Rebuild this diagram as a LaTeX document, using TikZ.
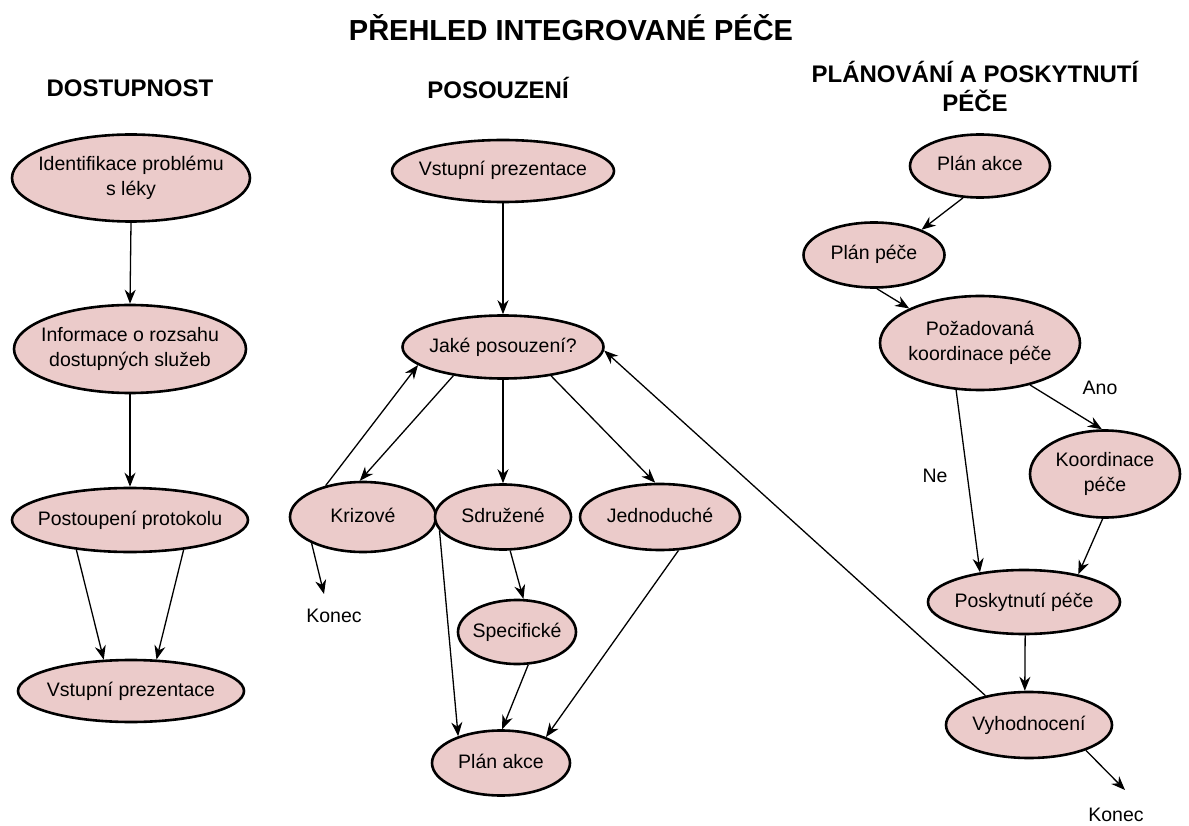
\documentclass[tikz,border=0pt]{standalone}
\usepackage{fontspec}
\setmainfont{Liberation Sans}
\usetikzlibrary{positioning, arrows.meta, shapes.geometric}
\definecolor{nodepink}{HTML}{EBCBCA}
% text of an ellipse, kept out of the shape's size
\newcommand\elltext[1]{\makebox[0pt]{\begin{tabular}{@{}c@{}}#1\end{tabular}}}
\tikzset{
  proc/.style={ellipse, draw, line width=2.6pt, fill=nodepink, inner sep=0pt,
    font=\fontsize{19.5}{25}\selectfont},
  flow/.style={-{Stealth[length=14pt,width=11pt]}, line width=1.3pt},
  lbl/.style={font=\fontsize{19.5}{25}\selectfont, inner sep=0pt},
  head/.style={font=\bfseries\fontsize{24}{29}\selectfont, align=center}
}

\begin{document}
\begin{tikzpicture}[x=1pt, y=-1pt]
    \useasboundingbox (0,0) rectangle (1189,826);

    % Titles
    \node[head, font=\bfseries\fontsize{29}{34}\selectfont] (title) at (571,28) {PŘEHLED INTEGROVANÉ PÉČE};
    \node[head] (hdostup) at (130,88) {DOSTUPNOST};
    \node[head] (hposouz) at (498,88) {POSOUZENÍ};
    \node[head] (hplan) at (975,86) {PLÁNOVÁNÍ A POSKYTNUTÍ\\PÉČE};

    % Dostupnost
    \node[proc, minimum width=238pt, minimum height=87pt] (ident) at (131,178) {\elltext{Identifikace problému\\s léky}};
    \node[proc, minimum width=232pt, minimum height=88pt] (info) at (130,349) {\elltext{Informace o rozsahu\\dostupných služeb}};
    \node[proc, minimum width=236pt, minimum height=64pt] (postoup) at (130,520) {\elltext{Postoupení protokolu}};
    \node[proc, minimum width=226pt, minimum height=62pt] (vstupA) at (131,691) {\elltext{Vstupní prezentace}};

    % Posouzeni
    \node[proc, minimum width=222pt, minimum height=62pt] (vstupB) at (503,171) {\elltext{Vstupní prezentace}};
    \node[proc, minimum width=201pt, minimum height=63pt] (jake) at (503,347) {\elltext{Jaké posouzení?}};
    \node[proc, minimum width=146pt, minimum height=70pt] (krizove) at (363,517) {\elltext{Krizové}};
    \node[proc, minimum width=136pt, minimum height=65pt] (sdruz) at (503,517) {\elltext{Sdružené}};
    \node[proc, minimum width=160pt, minimum height=66pt] (jedno) at (660,517) {\elltext{Jednoduché}};
    \node[proc, minimum width=118pt, minimum height=64pt] (spec) at (517,632) {\elltext{Specifické}};
    \node[proc, minimum width=138pt, minimum height=65pt] (planA) at (501,763) {\elltext{Plán akce}};
    \node[lbl] (konecA) at (334,616) {Konec};
    \coordinate (konecAtip) at (324,594);

    % Planovani a poskytnuti
    \node[proc, minimum width=140pt, minimum height=63pt] (planB) at (980,166) {\elltext{Plán akce}};
    \node[proc, minimum width=141pt, minimum height=65pt] (pece) at (874,255) {\elltext{Plán péče}};
    \node[proc, minimum width=200pt, minimum height=94pt] (pozad) at (980,343) {\elltext{Požadovaná\\koordinace péče}};
    \node[proc, minimum width=150pt, minimum height=87pt] (koord) at (1105,474) {\elltext{Koordinace\\péče}};
    \node[proc, minimum width=192pt, minimum height=64pt] (poskyt) at (1024,602) {\elltext{Poskytnutí péče}};
    \node[proc, minimum width=166pt, minimum height=66pt] (vyhod) at (1029,725) {\elltext{Vyhodnocení}};
    \node[lbl] (konecB) at (1116,815) {Konec};
    \coordinate (konecBtip) at (1125,790);
    \node[lbl] (ano) at (1100,388) {Ano};
    \node[lbl] (ne) at (935,476) {Ne};

    % Arrows
    \draw[flow] (ident.south) -- (info.north);
    \draw[flow] (info.south) -- (postoup.north);
    \draw[flow] (postoup.209) -- (vstupA.131);
    \draw[flow] (postoup.331) -- (vstupA.51);

    \draw[flow] (vstupB.south) -- (jake.north);
    \draw[flow] (jake.210) -- (krizove.95);
    \draw[flow] (krizove.140) -- (jake.192);
    \draw[flow] (jake.south) -- (sdruz.north);
    \draw[flow] (jake.329) -- (jedno.98);
    \draw[flow] (krizove.207) -- (konecAtip);
    \draw[flow] (sdruz.282) -- (spec.79);
    \draw[flow] (sdruz.192) -- (planA.148);
    \draw[flow] (spec.289) -- (planA.88);
    \draw[flow] (jedno.299) -- (planA.30);
    \draw[flow] (vyhod.146) -- (jake.358);

    \draw[flow] (planB.242) -- (pece.28);
    \draw[flow] (pece.275) -- (pozad.154);
    \draw[flow] (pozad.320) -- (koord.94);
    \draw[flow] (pozad.243) -- (poskyt.146);
    \draw[flow] (koord.267) -- (poskyt.27);
    \draw[flow] (poskyt.272) -- (vyhod.97);
    \draw[flow] (vyhod.336) -- (konecBtip);
\end{tikzpicture}
\end{document}
